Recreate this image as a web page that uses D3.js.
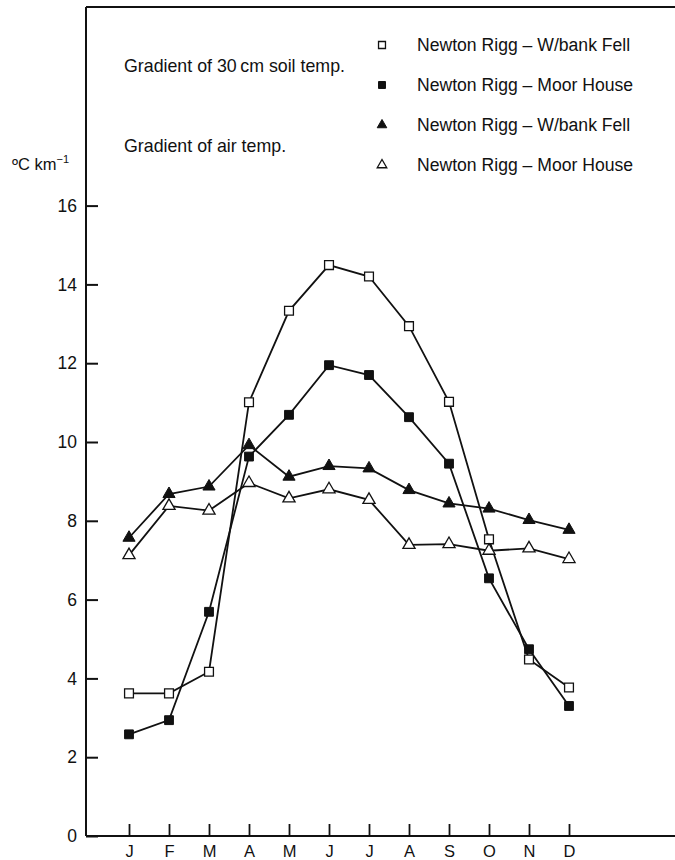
<!DOCTYPE html>
<html>
<head>
<meta charset="utf-8">
<script src="https://cdn.jsdelivr.net/npm/d3@7"></script>
<style>
  html, body { margin: 0; padding: 0; background: #fff; }
  svg { display: block; font-family: "Liberation Sans", Arial, Helvetica, sans-serif; }
</style>
</head>
<body>
<svg id="chart" width="675" height="860"></svg>
<script>
const months = ["J","F","M","A","M","J","J","A","S","O","N","D"];
const yTicks = [0, 2, 4, 6, 8, 10, 12, 14, 16];

// Gradient of 30 cm soil temp.
const soilWbank = [3.62, 3.62, 4.17, 11.01, 13.33, 14.49, 14.20, 12.94, 11.02, 7.53, 4.48, 3.77];
const soilMoor  = [2.58, 2.94, 5.69, 9.63, 10.69, 11.95, 11.70, 10.63, 9.45, 6.54, 4.74, 3.30];
// Gradient of air temp.
const airWbank  = [7.57, 8.68, 8.87, 9.92, 9.12, 9.39, 9.33, 8.78, 8.44, 8.31, 8.02, 7.77];
const airMoor   = [7.13, 8.38, 8.26, 8.96, 8.57, 8.80, 8.53, 7.39, 7.41, 7.24, 7.30, 7.03];

const seriesNames = ["Newton Rigg \u2013 W/bank Fell", "Newton Rigg \u2013 Moor House",
                     "Newton Rigg \u2013 W/bank Fell", "Newton Rigg \u2013 Moor House"];
const groupTitles = ["Gradient of 30\u2009cm soil temp.", "Gradient of air temp."];

const series = [
  { name: seriesNames[0], values: soilWbank, shape: "square", filled: false },
  { name: seriesNames[1], values: soilMoor,  shape: "square", filled: true },
  { name: seriesNames[2], values: airWbank,  shape: "triangle", filled: true },
  { name: seriesNames[3], values: airMoor,   shape: "triangle", filled: false }
];

const svg = d3.select("#chart");
const ink = "#111";

const axisX = 86, baseY = 836, topY = 7;
const idx = d3.range(months.length);
const x = d3.scalePoint().domain(idx).range([129, 569]);
const y = d3.scaleLinear().domain([0, 16]).range([baseY, baseY - 16 * 39.4]);

// frame: left axis, top line, baseline
svg.append("line").attr("x1", axisX).attr("x2", axisX).attr("y1", topY).attr("y2", baseY)
  .attr("stroke", ink).attr("stroke-width", 2);
svg.append("line").attr("x1", axisX).attr("x2", 675).attr("y1", topY).attr("y2", topY)
  .attr("stroke", ink).attr("stroke-width", 2);
svg.append("line").attr("x1", axisX).attr("x2", 675).attr("y1", baseY).attr("y2", baseY)
  .attr("stroke", ink).attr("stroke-width", 2);

// y axis
const gy = svg.append("g").attr("transform", `translate(${axisX},0)`)
  .call(d3.axisLeft(y).tickValues(yTicks).tickSizeInner(-12).tickSizeOuter(0).tickPadding(9)
        .tickFormat(d3.format("d")));
gy.select(".domain").remove();
gy.selectAll(".tick line").attr("stroke", ink).attr("stroke-width", 2);
gy.selectAll(".tick text").attr("fill", ink).attr("font-size", 17.5)
  .attr("font-family", "\"Liberation Sans\", Arial, sans-serif");

// x axis
const gx = svg.append("g").attr("transform", `translate(0,${baseY})`)
  .call(d3.axisBottom(x).tickSizeInner(-12).tickSizeOuter(0).tickPadding(9)
        .tickFormat(i => months[i]));
gx.select(".domain").remove();
gx.selectAll(".tick line").attr("stroke", ink).attr("stroke-width", 1.8);
gx.selectAll(".tick text").attr("fill", ink).attr("font-size", 16.5)
  .attr("font-family", "\"Liberation Sans\", Arial, sans-serif");

// y unit label
const unit = svg.append("text").attr("x", 12).attr("y", 170).attr("font-size", 16.5).attr("fill", ink);
unit.append("tspan").text("\u00baC km");
unit.append("tspan").attr("dy", -7).attr("font-size", 11).text("\u22121");

// lines
series.forEach(s => {
  const line = d3.line().x((d, i) => x(i)).y(d => y(d));
  svg.append("path").datum(s.values).attr("d", line)
    .attr("fill", "none").attr("stroke", ink).attr("stroke-width", 1.8);
});

// markers
function marker(sel, s, scale) {
  const type = s.shape === "square" ? d3.symbolSquare : d3.symbolTriangle;
  const size = (s.shape === "square" ? 78 : 64) * scale;
  sel.attr("d", d3.symbol().type(type).size(size)())
    .attr("fill", s.filled ? ink : "#fff")
    .attr("stroke", ink).attr("stroke-width", s.filled ? 1 : 1.3);
}
series.forEach(s => {
  svg.append("g").selectAll("path").data(s.values).join("path")
    .attr("transform", (d, i) => `translate(${x(i)},${y(d)})`)
    .each(function() { marker(d3.select(this), s, 1); });
});

// group titles
svg.append("text").attr("x", 124).attr("y", 72).attr("font-size", 17.8).attr("fill", ink).text(groupTitles[0]);
svg.append("text").attr("x", 124).attr("y", 152).attr("font-size", 17.8).attr("fill", ink).text(groupTitles[1]);

// legend
const legY = [45, 85, 125, 165];
series.forEach((s, k) => {
  svg.append("path").attr("transform", `translate(382,${legY[k]})`)
    .each(function() { marker(d3.select(this), s, 0.62); });
  svg.append("text").attr("x", 417).attr("y", legY[k] + 6).attr("font-size", 17.6).attr("fill", ink)
    .text(s.name);
});
</script>
</body>
</html>
